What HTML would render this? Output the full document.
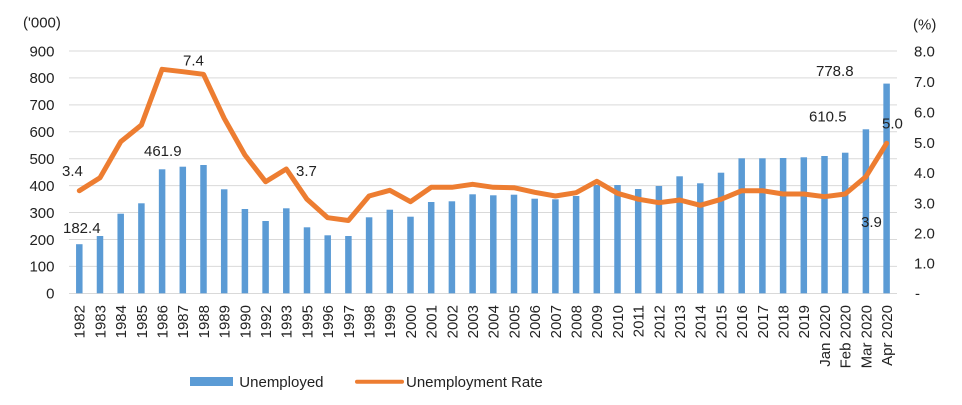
<!DOCTYPE html>
<html>
<head>
<meta charset="utf-8">
<style>
  html,body{margin:0;padding:0;background:#fff;}
  svg{display:block;}
  text{font-family:"Liberation Sans",Arial,sans-serif;font-size:15px;fill:#222;}
</style>
</head>
<body>
<svg width="962" height="405" viewBox="0 0 962 405" xmlns="http://www.w3.org/2000/svg">
  <rect x="0" y="0" width="962" height="405" fill="#fff"/>
  <!-- gridlines -->
  <g stroke="#d9d9d9" stroke-width="1">
    <line x1="69" y1="51" x2="897" y2="51"/>
    <line x1="69" y1="77.9" x2="897" y2="77.9"/>
    <line x1="69" y1="104.9" x2="897" y2="104.9"/>
    <line x1="69" y1="131.8" x2="897" y2="131.8"/>
    <line x1="69" y1="158.7" x2="897" y2="158.7"/>
    <line x1="69" y1="185.6" x2="897" y2="185.6"/>
    <line x1="69" y1="212.5" x2="897" y2="212.5"/>
    <line x1="69" y1="239.5" x2="897" y2="239.5"/>
    <line x1="69" y1="266.4" x2="897" y2="266.4"/>
    <line x1="69" y1="293.5" x2="897" y2="293.5"/>
  </g>
  <!-- left axis labels -->
  <g text-anchor="end">
    <text x="54.5" y="56.3">900</text>
    <text x="54.5" y="83.2">800</text>
    <text x="54.5" y="110.2">700</text>
    <text x="54.5" y="137.1">600</text>
    <text x="54.5" y="164">500</text>
    <text x="54.5" y="190.9">400</text>
    <text x="54.5" y="217.8">300</text>
    <text x="54.5" y="244.8">200</text>
    <text x="54.5" y="271.7">100</text>
    <text x="54.5" y="298.6">0</text>
  </g>
  <text x="23" y="27.5">('000)</text>
  <!-- right axis labels -->
  <g>
    <text x="914" y="56.3">8.0</text>
    <text x="914" y="86.8">7.0</text>
    <text x="914" y="117.5">6.0</text>
    <text x="914" y="147.8">5.0</text>
    <text x="914" y="178">4.0</text>
    <text x="914" y="208.3">3.0</text>
    <text x="914" y="238.3">2.0</text>
    <text x="914" y="268.3">1.0</text>
    <text x="915" y="298.6">-</text>
  </g>
  <text x="913" y="29.5">(%)</text>
  <!-- bars -->
  <g fill="#5b9bd5">
    <rect x="76.05" y="244.2" width="6.5" height="49.1"/>
    <rect x="96.75" y="236" width="6.5" height="57.3"/>
    <rect x="117.45" y="213.7" width="6.5" height="79.6"/>
    <rect x="138.15" y="203.3" width="6.5" height="90"/>
    <rect x="158.85" y="169.3" width="6.5" height="124"/>
    <rect x="179.55" y="166.7" width="6.5" height="126.6"/>
    <rect x="200.25" y="165" width="6.5" height="128.3"/>
    <rect x="220.95" y="189.3" width="6.5" height="104"/>
    <rect x="241.65" y="209" width="6.5" height="84.3"/>
    <rect x="262.35" y="221" width="6.5" height="72.3"/>
    <rect x="283.05" y="208.3" width="6.5" height="85"/>
    <rect x="303.75" y="227.3" width="6.5" height="66"/>
    <rect x="324.45" y="235.3" width="6.5" height="58"/>
    <rect x="345.15" y="236" width="6.5" height="57.3"/>
    <rect x="365.85" y="217.3" width="6.5" height="76"/>
    <rect x="386.55" y="209.7" width="6.5" height="83.6"/>
    <rect x="407.25" y="216.7" width="6.5" height="76.6"/>
    <rect x="427.95" y="202" width="6.5" height="91.3"/>
    <rect x="448.65" y="201.3" width="6.5" height="92"/>
    <rect x="469.35" y="194.3" width="6.5" height="99"/>
    <rect x="490.05" y="195.3" width="6.5" height="98"/>
    <rect x="510.75" y="194.7" width="6.5" height="98.6"/>
    <rect x="531.45" y="198.7" width="6.5" height="94.6"/>
    <rect x="552.15" y="199.3" width="6.5" height="94"/>
    <rect x="572.85" y="196" width="6.5" height="97.3"/>
    <rect x="593.55" y="185" width="6.5" height="108.3"/>
    <rect x="614.25" y="185" width="6.5" height="108.3"/>
    <rect x="634.95" y="189" width="6.5" height="104.3"/>
    <rect x="655.65" y="186" width="6.5" height="107.3"/>
    <rect x="676.35" y="176.3" width="6.5" height="117"/>
    <rect x="697.05" y="183.3" width="6.5" height="110"/>
    <rect x="717.75" y="172.7" width="6.5" height="120.6"/>
    <rect x="738.45" y="158.3" width="6.5" height="135"/>
    <rect x="759.15" y="158.3" width="6.5" height="135"/>
    <rect x="779.85" y="158" width="6.5" height="135.3"/>
    <rect x="800.55" y="157.3" width="6.5" height="136"/>
    <rect x="821.25" y="156" width="6.5" height="137.3"/>
    <rect x="841.95" y="152.7" width="6.5" height="140.6"/>
    <rect x="862.65" y="129.3" width="6.5" height="164"/>
    <rect x="883.35" y="83.6" width="6.5" height="209.7"/>
  </g>
  <!-- line -->
  <polyline fill="none" stroke="#ed7d31" stroke-width="5" stroke-linejoin="round" stroke-linecap="round"
    points="79.3,190.7 100,177.7 120.7,141.7 141.4,125 162.1,69.3 182.8,71.7 203.5,74.3 224.2,118.3 244.9,155 265.6,181.7 286.3,169 307,199.3 327.7,217.7 348.4,220.5 369.1,196 389.8,190.3 410.5,201.7 431.2,187.3 451.9,187.3 472.6,184.3 493.3,187.3 514,187.7 534.7,192.3 555.4,196 576.1,192.7 596.8,181.3 617.5,193.3 638.2,199.2 658.9,202.7 679.6,200 700.3,205.3 721,199.3 741.7,190.7 762.4,190.7 783.1,194 803.8,194 824.5,196.7 845.2,194 865.9,176.7 886.6,143.3"/>
  <!-- data labels -->
  <text x="62" y="176">3.4</text>
  <text x="63" y="233">182.4</text>
  <text x="144" y="156">461.9</text>
  <text x="183" y="65.3">7.4</text>
  <text x="296" y="176">3.7</text>
  <text x="816" y="76">778.8</text>
  <text x="809" y="121.3">610.5</text>
  <text x="882" y="128.6">5.0</text>
  <text x="861" y="227">3.9</text>
  <!-- x labels -->
  <g text-anchor="end">
    <text transform="translate(84.7,305) rotate(-90)">1982</text>
    <text transform="translate(105.4,305) rotate(-90)">1983</text>
    <text transform="translate(126.1,305) rotate(-90)">1984</text>
    <text transform="translate(146.8,305) rotate(-90)">1985</text>
    <text transform="translate(167.5,305) rotate(-90)">1986</text>
    <text transform="translate(188.2,305) rotate(-90)">1987</text>
    <text transform="translate(208.9,305) rotate(-90)">1988</text>
    <text transform="translate(229.6,305) rotate(-90)">1989</text>
    <text transform="translate(250.3,305) rotate(-90)">1990</text>
    <text transform="translate(271,305) rotate(-90)">1992</text>
    <text transform="translate(291.7,305) rotate(-90)">1993</text>
    <text transform="translate(312.4,305) rotate(-90)">1995</text>
    <text transform="translate(333.1,305) rotate(-90)">1996</text>
    <text transform="translate(353.8,305) rotate(-90)">1997</text>
    <text transform="translate(374.5,305) rotate(-90)">1998</text>
    <text transform="translate(395.2,305) rotate(-90)">1999</text>
    <text transform="translate(415.9,305) rotate(-90)">2000</text>
    <text transform="translate(436.6,305) rotate(-90)">2001</text>
    <text transform="translate(457.3,305) rotate(-90)">2002</text>
    <text transform="translate(478,305) rotate(-90)">2003</text>
    <text transform="translate(498.7,305) rotate(-90)">2004</text>
    <text transform="translate(519.4,305) rotate(-90)">2005</text>
    <text transform="translate(540.1,305) rotate(-90)">2006</text>
    <text transform="translate(560.8,305) rotate(-90)">2007</text>
    <text transform="translate(581.5,305) rotate(-90)">2008</text>
    <text transform="translate(602.2,305) rotate(-90)">2009</text>
    <text transform="translate(622.9,305) rotate(-90)">2010</text>
    <text transform="translate(643.6,305) rotate(-90)">2011</text>
    <text transform="translate(664.3,305) rotate(-90)">2012</text>
    <text transform="translate(685,305) rotate(-90)">2013</text>
    <text transform="translate(705.7,305) rotate(-90)">2014</text>
    <text transform="translate(726.4,305) rotate(-90)">2015</text>
    <text transform="translate(747.1,305) rotate(-90)">2016</text>
    <text transform="translate(767.8,305) rotate(-90)">2017</text>
    <text transform="translate(788.5,305) rotate(-90)">2018</text>
    <text transform="translate(809.2,305) rotate(-90)">2019</text>
    <text transform="translate(829.9,305) rotate(-90)">Jan 2020</text>
    <text transform="translate(850.6,305) rotate(-90)">Feb 2020</text>
    <text transform="translate(871.3,305) rotate(-90)">Mar 2020</text>
    <text transform="translate(892,305) rotate(-90)">Apr 2020</text>
  </g>
  <!-- legend -->
  <rect x="190" y="377" width="43" height="9" fill="#5b9bd5"/>
  <text x="239.3" y="387">Unemployed</text>
  <line x1="357" y1="381.7" x2="402" y2="381.7" stroke="#ed7d31" stroke-width="4" stroke-linecap="round"/>
  <text x="406" y="387">Unemployment Rate</text>
</svg>
</body>
</html>
